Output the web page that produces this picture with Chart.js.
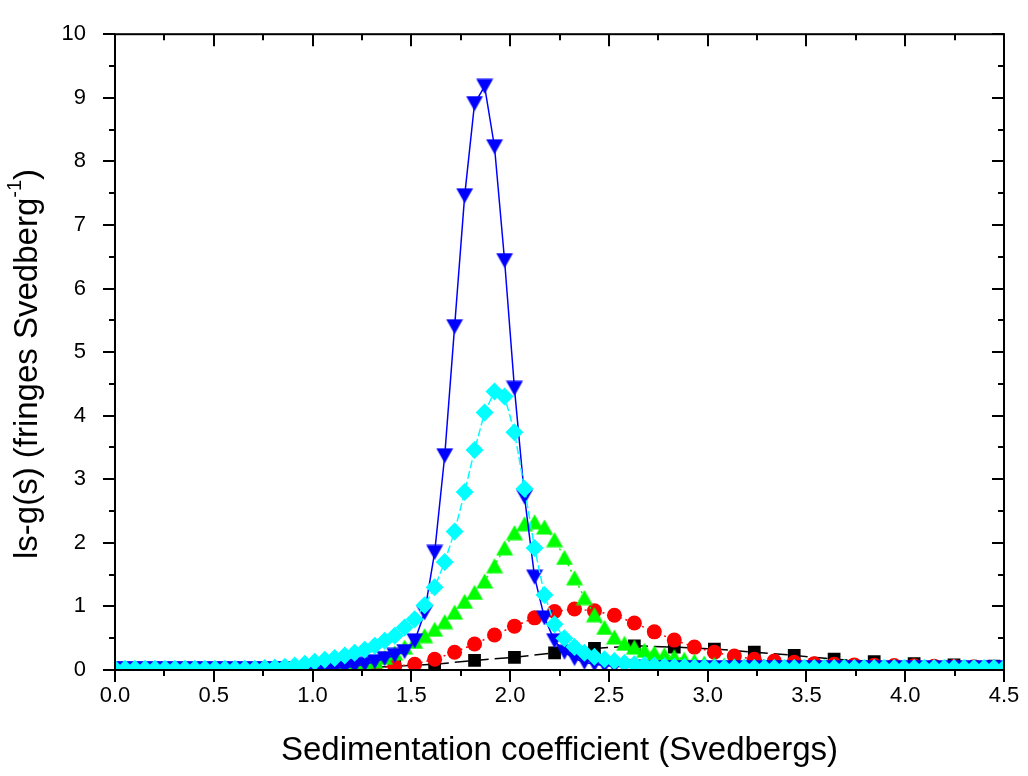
<!DOCTYPE html>
<html>
<head>
<meta charset="utf-8">
<title>ls-g(s) distributions</title>
<script src="https://cdn.jsdelivr.net/npm/chart.js@4.4.1/dist/chart.umd.min.js"></script>
<style>
  html, body { margin: 0; padding: 0; background: #fff; }
  canvas { display: block; }
</style>
</head>
<body>
<canvas id="lsgChart" width="1028" height="776"></canvas>
<script>
// s grid (Svedbergs) of the fitted distributions, 90 points from 0 to 4.5
const sGrid = [
  0.000, 0.051, 0.101, 0.152, 0.202, 0.253, 0.303, 0.354, 0.404, 0.455,
  0.506, 0.556, 0.607, 0.657, 0.708, 0.758, 0.809, 0.860, 0.910, 0.961,
  1.011, 1.062, 1.112, 1.163, 1.213, 1.264, 1.315, 1.365, 1.416, 1.466,
  1.517, 1.567, 1.618, 1.669, 1.719, 1.770, 1.820, 1.871, 1.921, 1.972,
  2.022, 2.073, 2.124, 2.174, 2.225, 2.275, 2.326, 2.376, 2.427, 2.478,
  2.528, 2.579, 2.629, 2.680, 2.730, 2.781, 2.831, 2.882, 2.933, 2.983,
  3.034, 3.084, 3.135, 3.185, 3.236, 3.287, 3.337, 3.388, 3.438, 3.489,
  3.539, 3.590, 3.640, 3.691, 3.742, 3.792, 3.843, 3.893, 3.944, 3.994,
  4.045, 4.096, 4.146, 4.197, 4.247, 4.298, 4.348, 4.399, 4.449, 4.500
];

const xTicks = [0, 0.5, 1, 1.5, 2, 2.5, 3, 3.5, 4, 4.5];
const yTicks = [0, 1, 2, 3, 4, 5, 6, 7, 8, 9, 10];

const xTitle = 'Sedimentation coefficient (Svedbergs)';
const yTitle = ['ls-g(s) (fringes Svedberg', '-1', ')'];

// ls-g(s) values, fringes per Svedberg
const blueG = [
  0.02, 0.02, 0.02, 0.02, 0.02, 0.02, 0.02, 0.02, 0.02, 0.02,
  0.02, 0.02, 0.02, 0.02, 0.02, 0.02, 0.02, 0.02, 0.02, 0.02,
  0.02, 0.02, 0.03, 0.04, 0.06, 0.09, 0.13, 0.18, 0.23, 0.29,
  0.46, 0.90, 1.85, 3.37, 5.40, 7.46, 8.91, 9.18, 8.23, 6.44,
  4.43, 2.72, 1.46, 0.82, 0.46, 0.28, 0.18, 0.12, 0.09, 0.07,
  0.06, 0.05, 0.04, 0.03, 0.03, 0.03, 0.03, 0.03, 0.03, 0.03,
  0.03, 0.03, 0.03, 0.03, 0.03, 0.03, 0.03, 0.03, 0.03, 0.03,
  0.03, 0.03, 0.03, 0.03, 0.03, 0.03, 0.03, 0.03, 0.03, 0.03,
  0.03, 0.03, 0.03, 0.03, 0.03, 0.03, 0.03, 0.03, 0.03, 0.03
];
const cyanG = [
  0.02, 0.02, 0.02, 0.02, 0.02, 0.02, 0.02, 0.02, 0.02, 0.02,
  0.02, 0.02, 0.02, 0.02, 0.02, 0.03, 0.04, 0.05, 0.07, 0.10,
  0.13, 0.16, 0.19, 0.23, 0.27, 0.32, 0.38, 0.46, 0.54, 0.67,
  0.80, 1.02, 1.30, 1.70, 2.18, 2.80, 3.46, 4.05, 4.38, 4.30,
  3.74, 2.85, 1.92, 1.18, 0.72, 0.50, 0.36, 0.27, 0.21, 0.17,
  0.14, 0.11, 0.09, 0.08, 0.07, 0.06, 0.05, 0.05, 0.04, 0.04,
  0.03, 0.03, 0.03, 0.03, 0.03, 0.03, 0.03, 0.03, 0.03, 0.03,
  0.03, 0.03, 0.03, 0.03, 0.03, 0.03, 0.03, 0.03, 0.03, 0.03,
  0.03, 0.03, 0.03, 0.03, 0.03, 0.03, 0.03, 0.03, 0.03, 0.03
];
const greenG = [
  0.02, 0.02, 0.02, 0.02, 0.02, 0.02, 0.02, 0.02, 0.02, 0.02,
  0.02, 0.02, 0.02, 0.02, 0.02, 0.02, 0.02, 0.02, 0.02, 0.02,
  0.03, 0.03, 0.04, 0.05, 0.07, 0.10, 0.14, 0.20, 0.27, 0.36,
  0.45, 0.54, 0.64, 0.76, 0.91, 1.08, 1.22, 1.40, 1.64, 1.92,
  2.16, 2.30, 2.33, 2.25, 2.05, 1.77, 1.45, 1.14, 0.87, 0.67,
  0.52, 0.42, 0.36, 0.31, 0.27, 0.24, 0.21, 0.17, 0.14, 0.11,
  0.09, 0.08, 0.07, 0.06, 0.05, 0.05, 0.04, 0.04, 0.04, 0.04,
  0.04, 0.04, 0.04, 0.04, 0.04, 0.04, 0.04, 0.04, 0.04, 0.04,
  0.04, 0.04, 0.04, 0.04, 0.04, 0.04, 0.04, 0.04, 0.04, 0.04
];

// red run: every second grid point
const redS = sGrid.filter((s, i) => i % 2 === 0);
const redG = [
  0.01, 0.01, 0.01, 0.01, 0.01, 0.01, 0.01, 0.01, 0.01, 0.01,
  0.01, 0.01, 0.01, 0.03, 0.06, 0.09, 0.17, 0.28, 0.41, 0.55,
  0.69, 0.82, 0.92, 0.96, 0.93, 0.86, 0.74, 0.60, 0.47, 0.36,
  0.28, 0.22, 0.17, 0.14, 0.12, 0.10, 0.09, 0.08, 0.075, 0.07,
  0.065, 0.06, 0.055, 0.05, 0.045
];

// black run: every fourth grid point
const blackS = sGrid.filter((s, i) => i % 4 === 0);
const blackG = [
  0.01, 0.01, 0.01, 0.01, 0.01, 0.01, 0.03, 0.06, 0.09, 0.15,
  0.20, 0.27, 0.34, 0.38, 0.36, 0.33, 0.28, 0.23, 0.17, 0.13,
  0.10, 0.08, 0.06
];

const FONT = 'Arial, "Liberation Sans", sans-serif';
const TITLE_FONT = '33px ' + FONT;
const SUP_FONT = '20px ' + FONT;

function toPoints(xs, ys) {
  return xs.map((x, i) => ({ x: x, y: ys[i] }));
}

// triangle markers centred on their bounding box
function triangleMarker(color, pointingDown) {
  const c = document.createElement('canvas');
  c.width = 18;
  c.height = 16;
  const g = c.getContext('2d');
  g.fillStyle = color;
  g.beginPath();
  if (pointingDown) {
    g.moveTo(0.5, 0.5); g.lineTo(17.5, 0.5); g.lineTo(9, 15.5);
  } else {
    g.moveTo(9, 0.5); g.lineTo(17.5, 15.5); g.lineTo(0.5, 15.5);
  }
  g.closePath();
  g.fill();
  return c;
}

// frame, ticks on all four sides and the axis titles
const axisFrame = {
  id: 'axisFrame',
  afterDraw(chart) {
    const { ctx, chartArea: a } = chart;
    const xs = chart.scales.x, ys = chart.scales.y;
    const major = 12, minor = 6;

    ctx.save();
    ctx.strokeStyle = '#000';
    ctx.lineWidth = 2;
    ctx.strokeRect(a.left, a.top, a.right - a.left, a.bottom - a.top);

    ctx.beginPath();
    xTicks.forEach((v, i) => {
      const px = Math.round(xs.getPixelForValue(v));
      ctx.moveTo(px, a.bottom); ctx.lineTo(px, a.bottom + major);
      ctx.moveTo(px, a.top); ctx.lineTo(px, a.top + major);
      if (i < xTicks.length - 1) {
        const mx = Math.round(xs.getPixelForValue((v + xTicks[i + 1]) / 2));
        ctx.moveTo(mx, a.bottom); ctx.lineTo(mx, a.bottom + minor);
        ctx.moveTo(mx, a.top); ctx.lineTo(mx, a.top + minor);
      }
    });
    yTicks.forEach((v, i) => {
      const py = Math.round(ys.getPixelForValue(v));
      ctx.moveTo(a.left, py); ctx.lineTo(a.left - major, py);
      ctx.moveTo(a.right, py); ctx.lineTo(a.right - major, py);
      if (i < yTicks.length - 1) {
        const my = Math.round(ys.getPixelForValue((v + yTicks[i + 1]) / 2));
        ctx.moveTo(a.left, my); ctx.lineTo(a.left - minor, my);
        ctx.moveTo(a.right, my); ctx.lineTo(a.right - minor, my);
      }
    });
    ctx.stroke();

    ctx.fillStyle = '#000';
    ctx.font = TITLE_FONT;
    ctx.textAlign = 'center';
    ctx.textBaseline = 'alphabetic';
    ctx.fillText(xTitle, (a.left + a.right) / 2, 760);

    // rotated y title with a raised "-1"
    ctx.translate(37, 364);
    ctx.rotate(-Math.PI / 2);
    ctx.textAlign = 'left';
    const w0 = ctx.measureText(yTitle[0]).width;
    const w2 = ctx.measureText(yTitle[2]).width;
    ctx.font = SUP_FONT;
    const w1 = ctx.measureText(yTitle[1]).width;
    const x0 = -(w0 + w1 + w2) / 2;
    ctx.font = TITLE_FONT;
    ctx.fillText(yTitle[0], x0, 0);
    ctx.font = SUP_FONT;
    ctx.fillText(yTitle[1], x0 + w0, -16);
    ctx.font = TITLE_FONT;
    ctx.fillText(yTitle[2], x0 + w0 + w1, 0);
    ctx.restore();
  }
};

const datasets = [
  {
    data: toPoints(sGrid, cyanG),
    order: 1,
    borderColor: '#00ffff',
    borderWidth: 1.5,
    borderDash: [8, 3],
    pointStyle: 'rectRot',
    pointRadius: 9,
    pointBackgroundColor: '#00ffff',
    pointBorderWidth: 0
  },
  {
    data: toPoints(sGrid, blueG),
    order: 2,
    borderColor: '#0000ff',
    borderWidth: 1.5,
    pointStyle: triangleMarker('#0000ff', true),
    pointRadius: 9
  },
  {
    data: toPoints(sGrid, greenG),
    order: 3,
    borderColor: '#00ff00',
    borderWidth: 1.5,
    borderDash: [2, 4],
    pointStyle: triangleMarker('#00ff00', false),
    pointRadius: 9
  },
  {
    data: toPoints(redS, redG),
    order: 4,
    borderColor: '#ff0000',
    borderWidth: 1.5,
    borderDash: [2, 4],
    pointStyle: 'circle',
    pointRadius: 7.5,
    pointBackgroundColor: '#ff0000',
    pointBorderWidth: 0
  },
  {
    data: toPoints(blackS, blackG),
    order: 5,
    borderColor: '#000000',
    borderWidth: 1.5,
    borderDash: [14, 6],
    pointStyle: 'rect',
    pointRadius: 9,
    pointBackgroundColor: '#000000',
    pointBorderWidth: 0
  }
];

new Chart(document.getElementById('lsgChart'), {
  type: 'scatter',
  data: { datasets: datasets },
  options: {
    responsive: false,
    animation: false,
    events: [],
    showLine: true,
    elements: { line: { tension: 0 } },
    layout: { padding: { left: 0, right: 24, top: 20, bottom: 0 } },
    plugins: {
      legend: { display: false },
      tooltip: { enabled: false }
    },
    scales: {
      x: {
        type: 'linear',
        min: 0,
        max: 4.5,
        afterFit: s => { s.height = 106; },
        afterBuildTicks: s => { s.ticks = xTicks.map(v => ({ value: v })); },
        grid: { display: false },
        border: { display: false },
        ticks: {
          color: '#000',
          font: { family: FONT, size: 22 },
          padding: 5,
          maxRotation: 0,
          callback: v => v.toFixed(1)
        }
      },
      y: {
        type: 'linear',
        min: 0,
        max: 10,
        afterFit: s => { s.width = 115; },
        afterBuildTicks: s => { s.ticks = yTicks.map(v => ({ value: v })); },
        grid: { display: false },
        border: { display: false },
        ticks: {
          color: '#000',
          font: { family: FONT, size: 22 },
          padding: 21,
          callback: v => String(v)
        }
      }
    }
  },
  plugins: [axisFrame]
});
</script>
</body>
</html>
